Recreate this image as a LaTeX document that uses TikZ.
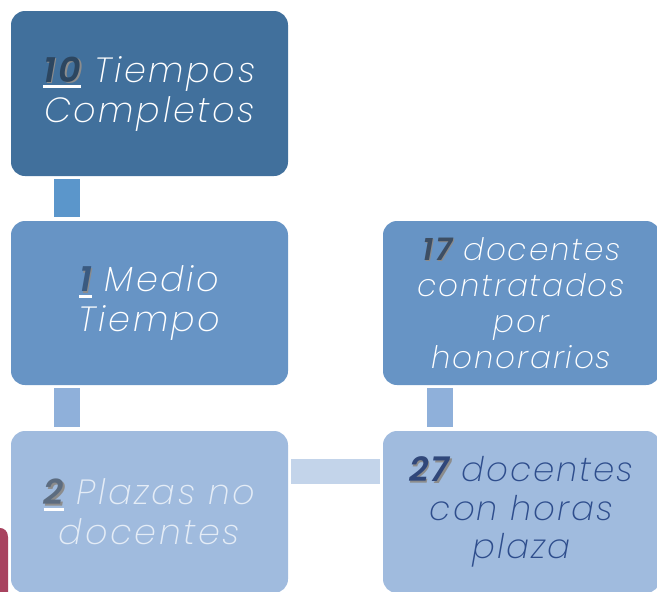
\documentclass[tikz,border=0pt]{standalone}
\usepackage{fontspec}
\newfontfamily\mont{Poppins}[UprightFont={* ExtraLight Italic},BoldFont={* SemiBold Italic},LetterSpace=6]
\newfontfamily\montw{Poppins}[UprightFont={* ExtraLight Italic},BoldFont={* SemiBold Italic},LetterSpace=7.5]
\usetikzlibrary{calc}
\definecolor{cA}{HTML}{41709C}
\definecolor{cB}{HTML}{6794C5}
\definecolor{cC}{HTML}{A0BBDE}
\definecolor{kA}{HTML}{5B96CB}
\definecolor{kB}{HTML}{8FB0DA}
\definecolor{kC}{HTML}{C3D4EA}
\definecolor{redx}{HTML}{A8435F}
\definecolor{txtC}{HTML}{E4ECF6}
\definecolor{txtD}{HTML}{2E4D8C}
\definecolor{nA}{HTML}{2C4660}
\definecolor{nB}{HTML}{3A5A80}
\definecolor{nC}{HTML}{5C6C80}
\definecolor{nD}{HTML}{3D4E63}
\definecolor{nE}{HTML}{30477A}
\newlength\numw
% #1 number, #2 colour, #3 underline (1/0)
\newcommand\bignum[3]{%
  \settowidth\numw{\bfseries #1}%
  \makebox[0pt][l]{\kern1.5pt\raisebox{-1.5pt}{\bfseries\color{black!45}#1}}%
  \ifnum#3=1 \makebox[0pt][l]{\color{white}\rule[-6pt]{\numw}{2.8pt}}\fi
  {\bfseries\color{#2}#1}}
\tikzset{
  box/.style={rounded corners=14pt, minimum width=277pt, align=center,
    font=\montw\fontsize{35}{40}\selectfont, text=white, inner sep=0pt},
  bar/.style={line width=26pt, shorten <=3pt, shorten >=4pt},
}
\begin{document}
\begin{tikzpicture}[x=1pt,y=-1pt]
\useasboundingbox (0,0) rectangle (657,592);
\clip (0,0) rectangle (657,592);
\fill[redx] (0,528) .. controls (4,528) and (8,531) .. (8,537) -- (8,592) -- (0,592) -- cycle;
\node[box, fill=cA, minimum height=165pt] (b1) at (149.5,93.5)
  {\bignum{10}{nA}{1} Tiempos\\Completos};
\node[box, fill=cB, minimum height=164pt] (b2) at (149.5,303)
  {\bignum{1}{nB}{1} Medio\\Tiempo};
\node[box, fill=cC, minimum height=162pt, text=txtC] (b3) at (149.5,512)
  {\bignum{2}{nC}{1} Plazas no\\docentes};
\node[box, fill=cB, minimum height=164pt, font=\mont\fontsize{31}{36}\selectfont] (b4) at (521.5,303)
  {\bignum{17}{nD}{0} docentes\\contratados\\por\\honorarios};
\node[box, fill=cC, minimum height=162pt, text=txtD, font=\mont\fontsize{34}{38.5}\selectfont] (b5) at (521.5,512)
  {\bignum{27}{nE}{0} docentes\\con horas\\plaza};
\draw[bar, kA] ([xshift=56pt]b1.south west) -- ([xshift=56pt]b2.north west);
\draw[bar, kB] ([xshift=56pt]b2.south west) -- ([xshift=56pt]b3.north west);
\draw[bar, kB] ([xshift=57pt]b4.south west) -- ([xshift=57pt]b5.north west);
\draw[kC, line width=25pt, shorten <=3pt, shorten >=3pt] ([yshift=-40.5pt]b3.north east) -- ([yshift=-40.5pt]b5.north west);
\end{tikzpicture}
\end{document}
